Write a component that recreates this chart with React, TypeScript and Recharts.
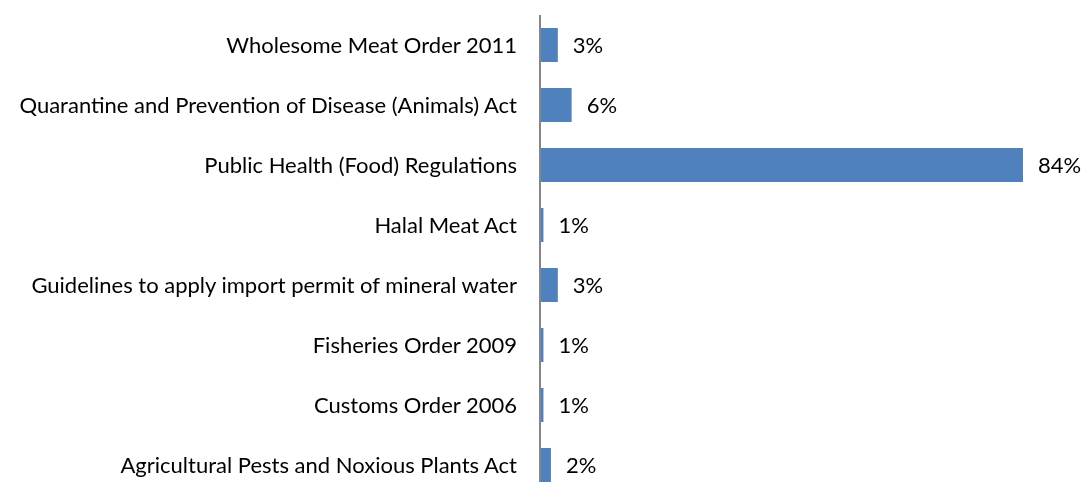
import { BarChart, Bar, XAxis, YAxis, LabelList } from "recharts"

const categories = [
  "Wholesome Meat Order 2011",
  "Quarantine and Prevention of Disease (Animals) Act",
  "Public Health (Food) Regulations",
  "Halal Meat Act",
  "Guidelines to apply import permit of mineral water",
  "Fisheries Order 2009",
  "Customs Order 2006",
  "Agricultural Pests and Noxious Plants Act",
]

// percent of items
const shares = [3.1, 5.5, 84, 0.6, 3.1, 0.6, 0.6, 1.9]

const data = categories.map((name, i) => ({ name, share: shares[i] }))

const font = "Lato, 'Open Sans', sans-serif"

export default function App() {
  // fixed so the part of the plot below the window doesn't add a scrollbar
  return (
    <div style={{ position: "fixed", top: 8, left: 8, width: 1080, height: 490, fontFamily: font }}>
      <BarChart
        width={1080}
        height={490}
        data={data}
        layout="vertical"
        margin={{ top: 7, right: 65, bottom: 3, left: 0 }}
      >
        <XAxis type="number" domain={[0, 84]} hide />
        <YAxis
          type="category"
          dataKey="name"
          width={532}
          tickLine={false}
          tickSize={0}
          tickMargin={23}
          axisLine={{ stroke: "#868686", strokeWidth: 2 }}
          tick={{ fill: "#000", fontSize: 22, fontFamily: font }}
          interval={0}
        />
        <Bar dataKey="share" fill="#4f81bd" barSize={34} isAnimationActive={false}>
          <LabelList
            dataKey="share"
            position="right"
            offset={15}
            formatter={(v: any) => `${Math.round(Number(v))}%`}
            style={{ fill: "#000", fontSize: 22, fontFamily: font }}
          />
        </Bar>
      </BarChart>
    </div>
  )
}
